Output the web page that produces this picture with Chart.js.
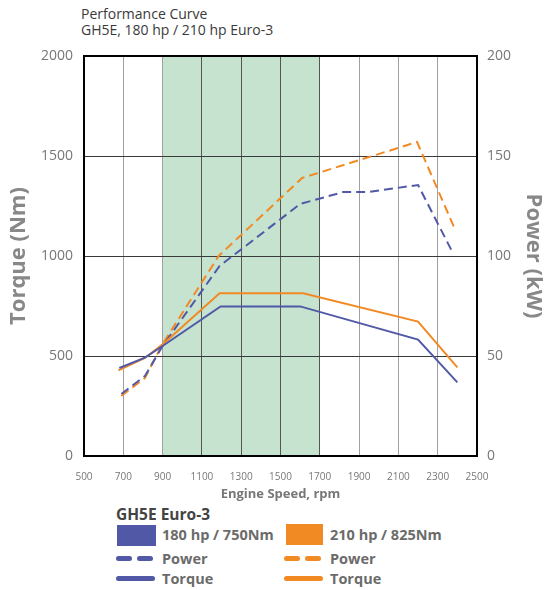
<!DOCTYPE html>
<html>
<head>
<meta charset="utf-8">
<script src="https://cdn.jsdelivr.net/npm/chart.js@4.4.1/dist/chart.umd.min.js"></script>
<style>
  body { margin: 0; width: 547px; height: 590px; position: relative; background: #fff; overflow: hidden; font-family: "Open Sans", sans-serif; }
  #titulo { position: absolute; left: 81px; top: 6px; font-size: 14px; line-height: 16px; color: #3a3a3a; }
  #grafico { position: absolute; left: 0; top: 0; }
  .leg { position: absolute; font-weight: 700; font-size: 14.5px; color: #6b6b6b; line-height: 18px; white-space: nowrap; }
  .caixa { position: absolute; height: 21px; }
  .traco { position: absolute; height: 5px; border-radius: 3px; }
</style>
</head>
<body>
<div id="titulo">Performance Curve<br>GH5E, 180 hp / 210 hp Euro-3</div>
<canvas id="grafico" width="547" height="502"></canvas>

<div class="leg" style="left:116px;top:505px;color:#444;font-size:15.5px;">GH5E Euro-3</div>
<div class="caixa" style="left:117px;top:525px;width:39px;background:#5159a7;"></div>
<div class="leg" style="left:162px;top:526px;">180 hp / 750Nm</div>
<div class="caixa" style="left:286px;top:524px;width:37px;background:#f28a24;"></div>
<div class="leg" style="left:330px;top:526px;">210 hp / 825Nm</div>

<div class="traco" style="left:116px;top:556px;width:16px;background:#5159a7;"></div>
<div class="traco" style="left:137px;top:556px;width:16px;background:#5159a7;"></div>
<div class="leg" style="left:162px;top:550px;">Power</div>
<div class="traco" style="left:284px;top:556px;width:16px;background:#f28a24;"></div>
<div class="traco" style="left:305px;top:556px;width:16px;background:#f28a24;"></div>
<div class="leg" style="left:330px;top:550px;">Power</div>

<div class="traco" style="left:116px;top:576px;width:39px;background:#5159a7;"></div>
<div class="leg" style="left:162px;top:570px;">Torque</div>
<div class="traco" style="left:284px;top:576px;width:39px;background:#f28a24;"></div>
<div class="leg" style="left:330px;top:570px;">Torque</div>

<script>
// Dados
const rpmTorque180 = [680, 810, 900, 1195, 1600, 2200, 2400];
const torque180 = [440, 492, 550, 748, 748, 582, 368];
const rpmTorque210 = [675, 810, 900, 1190, 1615, 2200, 2400];
const torque210 = [428, 490, 558, 814, 814, 672, 443];

const rpmPower180 = [690, 810, 900, 1190, 1600, 1820, 1950, 2200, 2380];
const power180 = [31, 40, 55, 95, 126, 132, 132, 135.5, 101];
const rpmPower210 = [690, 810, 900, 1185, 1610, 2195, 2385];
const power210 = [30, 39, 56, 100, 139, 157, 114];

const faixaVerde = [900, 1700];
const azul = '#5159a7';
const laranja = '#f28a24';

const pontos = (xs, ys) => xs.map((x, i) => ({ x, y: ys[i] }));
const semVirgula = v => String(v);

// Faixa verde e moldura preta
const moldura = {
  id: 'moldura',
  beforeDraw(chart) {
    const { ctx, chartArea: a, scales: { x } } = chart;
    const x1 = x.getPixelForValue(faixaVerde[0]);
    const x2 = x.getPixelForValue(faixaVerde[1]);
    ctx.save();
    ctx.fillStyle = '#c5e3cf';
    ctx.fillRect(x1, a.top, x2 - x1, a.bottom - a.top);
    ctx.restore();
  },
  afterDraw(chart) {
    const { ctx, chartArea: a } = chart;
    ctx.save();
    ctx.strokeStyle = '#000';
    ctx.lineWidth = 2;
    ctx.strokeRect(a.left, a.top, a.right - a.left, a.bottom - a.top);
    ctx.restore();
  }
};

const ticksFonte = { family: 'Open Sans', size: 14 };
const tituloFonte = { family: 'Open Sans', size: 22, weight: 'bold' };

new Chart(document.getElementById('grafico'), {
  type: 'line',
  data: {
    datasets: [
      { data: pontos(rpmTorque180, torque180), borderColor: azul, borderWidth: 2, yAxisID: 'y' },
      { data: pontos(rpmTorque210, torque210), borderColor: laranja, borderWidth: 2, yAxisID: 'y' },
      { data: pontos(rpmPower180, power180), borderColor: azul, borderWidth: 2, borderDash: [9, 5], yAxisID: 'y2' },
      { data: pontos(rpmPower210, power210), borderColor: laranja, borderWidth: 2, borderDash: [9, 5], yAxisID: 'y2' }
    ]
  },
  options: {
    responsive: false,
    animation: false,
    layout: { padding: { top: 56, left: 0, right: 0, bottom: 0 } },
    elements: { point: { radius: 0 }, line: { tension: 0 } },
    plugins: { legend: { display: false }, tooltip: { enabled: false } },
    scales: {
      x: {
        type: 'linear', min: 500, max: 2500,
        afterFit: s => { s.height = 46; },
        ticks: { stepSize: 200, color: '#777', font: { family: 'Open Sans', size: 10 }, padding: 15, maxRotation: 0, callback: semVirgula },
        grid: {
          drawTicks: false,
          color: c => (c.tick.value > faixaVerde[0] && c.tick.value <= faixaVerde[1]) ? '#555' : '#a0a0a0'
        },
        border: { display: false },
        title: { display: true, text: 'Engine Speed, rpm', color: '#777', font: { family: 'Open Sans', size: 13, weight: 'bold' }, padding: 0 }
      },
      y: {
        position: 'left', min: 0, max: 2000,
        afterFit: s => { s.width = 84; },
        ticks: { stepSize: 500, color: '#777', font: ticksFonte, padding: 11, callback: semVirgula },
        grid: { drawTicks: false, color: '#3a3a3a' },
        border: { display: false },
        title: { display: true, text: 'Torque (Nm)', color: '#888', font: tituloFonte, padding: { top: 6 } }
      },
      y2: {
        position: 'right', min: 0, max: 200,
        afterFit: s => { s.width = 70; },
        ticks: { stepSize: 50, color: '#777', font: ticksFonte, padding: 10, callback: semVirgula },
        grid: { display: false, drawTicks: false },
        border: { display: false },
        title: { display: true, text: 'Power (kW)', color: '#888', font: tituloFonte, padding: { top: 1 } }
      }
    }
  },
  plugins: [moldura]
});
</script>
</body>
</html>
